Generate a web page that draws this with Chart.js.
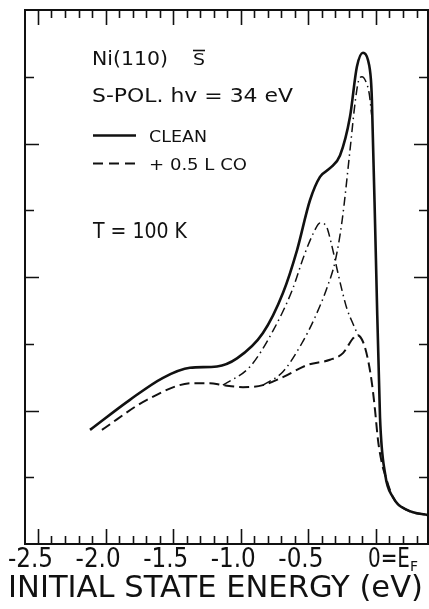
<!DOCTYPE html>
<html>
<head>
<meta charset="utf-8">
<script src="https://cdn.jsdelivr.net/npm/chart.js@4.4.0/dist/chart.umd.min.js"></script>
<style>
  html, body { margin: 0; padding: 0; background: #fff; }
  canvas { display: block; }
</style>
</head>
<body>
<canvas id="spectrum" width="429" height="609"></canvas>
<script>
// energies in eV relative to E_F, intensities in arbitrary units (0..8 full height)
const cleanE = [-2.115, -1.82, -1.575, -1.376, -1.176, -1.028, -0.836, -0.688, -0.584, -0.488, -0.414, -0.34, -0.266, -0.192, -0.141, -0.096, -0.059, -0.037, -0.03, 0.0, 0.03, 0.067, 0.126, 0.229, 0.392];
const cleanI = [1.71, 2.16, 2.49, 2.64, 2.66, 2.78, 3.16, 3.76, 4.40, 5.15, 5.50, 5.63, 5.82, 6.40, 7.15, 7.36, 7.25, 6.95, 6.65, 4.25, 1.90, 1.06, 0.70, 0.51, 0.43];

const coE = [-2.027, -1.694, -1.354, -1.228, -1.132, -0.984, -0.836, -0.688, -0.51, -0.34, -0.244, -0.17, -0.141, -0.096, -0.059, -0.03, -0.007, 0.015, 0.044, 0.067, 0.126, 0.229, 0.392];
const coI = [1.71, 2.16, 2.41, 2.41, 2.38, 2.35, 2.38, 2.50, 2.68, 2.76, 2.86, 3.08, 3.13, 3.03, 2.76, 2.41, 2.01, 1.56, 1.21, 1.04, 0.70, 0.51, 0.43];

// dash-dot components of the CO spectrum
const compAE = [-1.132, -0.93, -0.76, -0.62, -0.53, -0.462, -0.414, -0.37, -0.33, -0.288, -0.251, -0.214, -0.17, -0.133];
const compAI = [2.38, 2.66, 3.20, 3.80, 4.33, 4.66, 4.81, 4.77, 4.50, 4.12, 3.80, 3.52, 3.30, 3.13];
const compBE = [-0.836, -0.688, -0.55, -0.45, -0.36, -0.30, -0.25, -0.192, -0.155, -0.13, -0.104, -0.075, -0.05, -0.03];
const compBI = [2.38, 2.58, 3.00, 3.40, 3.85, 4.25, 4.85, 5.90, 6.60, 6.93, 7.00, 6.93, 6.75, 6.40];

const xMajor = [-2.5, -2.0, -1.5, -1.0, -0.5, 0];
const xLabels = ['-2.5', '-2.0', '-1.5', '-1.0', '-0.5', '0'];
const yTicks = [1, 2, 3, 4, 5, 6, 7];

function pts(xs, ys) {
    return xs.map((x, i) => ({ x: x, y: ys[i] }));
}

const FONT = '"DejaVu Sans", sans-serif';

function fitText(ctx, text, left, base, width, size) {
    ctx.font = size + 'px ' + FONT;
    const w = ctx.measureText(text).width;
    ctx.save();
    ctx.translate(left, base);
    ctx.scale(width / w, 1);
    ctx.textAlign = 'left';
    ctx.textBaseline = 'alphabetic';
    ctx.fillText(text, 0, 0);
    ctx.restore();
}

const framePlugin = {
    id: 'frame',
    afterDraw(chart) {
        const ctx = chart.ctx;
        const a = chart.chartArea;
        const xs = chart.scales.x;
        const ys = chart.scales.y;
        ctx.save();
        ctx.strokeStyle = '#111';
        ctx.fillStyle = '#111';
        ctx.lineWidth = 2;
        ctx.strokeRect(a.left, a.top, a.right - a.left, a.bottom - a.top);

        // x ticks every 0.1 eV, top and bottom, pointing inward
        ctx.lineWidth = 1.6;
        ctx.beginPath();
        for (let k = -25; k <= 3; k++) {
            const px = Math.round(xs.getPixelForValue(k / 10)) + 0.5;
            const len = (k % 5 === 0) ? 15 : 8;
            ctx.moveTo(px, a.bottom);
            ctx.lineTo(px, a.bottom - len);
            ctx.moveTo(px, a.top);
            ctx.lineTo(px, a.top + len);
        }
        // y ticks left and right
        yTicks.forEach(v => {
            const py = Math.round(ys.getPixelForValue(v)) + 0.5;
            const len = (v % 2 === 0) ? 14 : 9;
            ctx.moveTo(a.left, py);
            ctx.lineTo(a.left + len, py);
            ctx.moveTo(a.right, py);
            ctx.lineTo(a.right - len, py);
        });
        ctx.stroke();

        // x tick labels
        xMajor.forEach((v, i) => {
            const px = xs.getPixelForValue(v);
            if (v === 0) {
                fitText(ctx, '0=E', px - 8, 567, 42, 27);
                fitText(ctx, 'F', px + 34, 571, 8, 14);
            } else {
                fitText(ctx, xLabels[i], px + 15 - 45, 567, 45, 27);
            }
        });

        // axis title
        fitText(ctx, 'INITIAL STATE ENERGY (eV)', 8, 597, 415, 30);

        // annotations
        fitText(ctx, 'Ni(110)', 92, 65, 76, 20);
        fitText(ctx, 'S', 193, 65, 12, 16);
        ctx.lineWidth = 1.6;
        ctx.beginPath();
        ctx.moveTo(193, 50.5);
        ctx.lineTo(205, 50.5);
        ctx.stroke();
        fitText(ctx, 'S-POL. hv = 34 eV', 92, 102, 201, 20);
        fitText(ctx, 'CLEAN', 149, 142, 58, 16.5);
        fitText(ctx, '+ 0.5 L CO', 149, 170, 98, 16.5);
        fitText(ctx, 'T = 100 K', 93, 238, 94, 22);

        // legend samples
        ctx.lineWidth = 2.5;
        ctx.beginPath();
        ctx.moveTo(93, 135.5);
        ctx.lineTo(136, 135.5);
        ctx.stroke();
        ctx.lineWidth = 2;
        ctx.setLineDash([10, 6]);
        ctx.beginPath();
        ctx.moveTo(93, 163.5);
        ctx.lineTo(136, 163.5);
        ctx.stroke();
        ctx.restore();
    }
};

const common = {
    fill: false,
    pointRadius: 0,
    borderColor: '#111',
    cubicInterpolationMode: 'monotone'
};

new Chart(document.getElementById('spectrum'), {
    type: 'line',
    data: {
        datasets: [
            Object.assign({ label: 'CLEAN', data: pts(cleanE, cleanI), borderWidth: 2.6 }, common),
            Object.assign({ label: '+ 0.5 L CO', data: pts(coE, coI), borderWidth: 2, borderDash: [10, 5] }, common),
            Object.assign({ label: 'component A', data: pts(compAE, compAI), borderWidth: 1.5, borderDash: [9, 4, 1.5, 4] }, common),
            Object.assign({ label: 'component B', data: pts(compBE, compBI), borderWidth: 1.5, borderDash: [9, 4, 1.5, 4] }, common)
        ]
    },
    options: {
        responsive: false,
        animation: false,
        layout: { padding: { left: 25, top: 10, right: 1, bottom: 65 } },
        plugins: { legend: { display: false }, tooltip: { enabled: false } },
        scales: {
            x: { type: 'linear', min: -2.596, max: 0.385, display: false },
            y: { min: 0, max: 8, display: false }
        }
    },
    plugins: [framePlugin]
});
</script>
</body>
</html>
